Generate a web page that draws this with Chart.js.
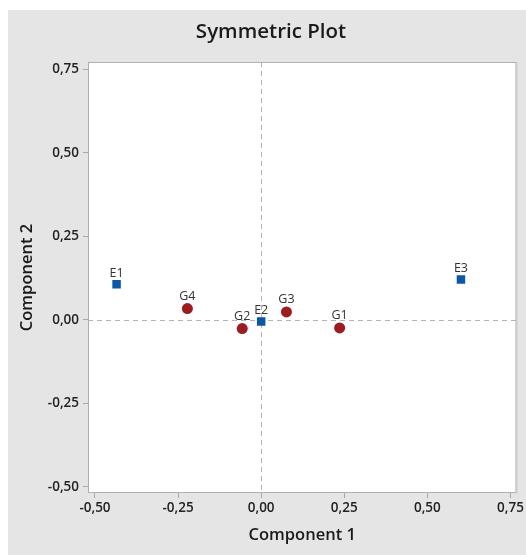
<!DOCTYPE html>
<html>
<head>
<meta charset="utf-8">
<script src="https://cdn.jsdelivr.net/npm/chart.js@4/dist/chart.umd.min.js"></script>
<style>
  html, body { margin: 0; padding: 0; background: #ffffff; }
  #wrap { position: absolute; left: 8px; top: 10px; width: 518px; height: 545px; background: #e5e5e5; }
  canvas { display: block; }
</style>
</head>
<body>
<div id="wrap"><canvas id="c" width="518" height="545"></canvas></div>
<script>
// ---- data ----
const gLabels = ['G1', 'G2', 'G3', 'G4'];
const gX = [0.236, -0.057, 0.076, -0.222];
const gY = [-0.024, -0.026, 0.024, 0.034];

const eLabels = ['E1', 'E2', 'E3'];
const eX = [-0.435, 0.000, 0.601];
const eY = [0.107, -0.005, 0.121];

const xTickValues = [-0.5, -0.25, 0, 0.25, 0.5, 0.75];
const xTickLabels = ['-0,50', '-0,25', '0,00', '0,25', '0,50', '0,75'];
const yTickValues = [-0.5, -0.25, 0, 0.25, 0.5, 0.75];
const yTickLabels = ['-0,50', '-0,25', '0,00', '0,25', '0,50', '0,75'];

const chartTitle = 'Symmetric Plot';
const xTitle = 'Component 1';
const yTitle = 'Component 2';

// ---- chart ----
const FONT = "'Open Sans', 'Noto Sans', sans-serif";
const toPts = (xs, ys) => xs.map((x, i) => ({ x: x, y: ys[i] }));

const decorPlugin = {
  id: 'decor',
  beforeDatasetsDraw(chart) {
    const ctx = chart.ctx, a = chart.chartArea;
    const xs = chart.scales.x, ys = chart.scales.y;
    ctx.save();
    ctx.fillStyle = '#ffffff';
    ctx.fillRect(a.left, a.top, a.right - a.left, a.bottom - a.top);
    // zero reference lines
    ctx.strokeStyle = '#b4b4b4';
    ctx.lineWidth = 1;
    ctx.setLineDash([5, 4]);
    const x0 = Math.round(xs.getPixelForValue(0)) + 0.5;
    const y0 = Math.round(ys.getPixelForValue(0)) + 0.5;
    ctx.beginPath();
    ctx.moveTo(x0, a.top); ctx.lineTo(x0, a.bottom);
    ctx.moveTo(a.left, y0); ctx.lineTo(a.right, y0);
    ctx.stroke();
    ctx.setLineDash([]);
    // frame
    ctx.strokeStyle = '#b0b0b0';
    ctx.strokeRect(a.left + 0.5, a.top + 0.5, a.right - a.left - 1, a.bottom - a.top - 1);
    ctx.strokeStyle = '#c8c8c8';
    ctx.beginPath();
    ctx.moveTo(a.right + 0.5, a.top); ctx.lineTo(a.right + 0.5, a.bottom + 1);
    ctx.stroke();
    ctx.restore();
  },
  afterDatasetsDraw(chart) {
    const ctx = chart.ctx, a = chart.chartArea;
    ctx.save();
    // point labels
    ctx.fillStyle = '#333333';
    ctx.font = "12.5px " + FONT;
    ctx.textAlign = 'center';
    ctx.textBaseline = 'alphabetic';
    chart.data.datasets.forEach((ds, di) => {
      const meta = chart.getDatasetMeta(di);
      meta.data.forEach((el, i) => {
        ctx.fillText(ds.pointLabels[i], el.x, el.y - ds.labelGap);
      });
    });
    // title
    ctx.fillStyle = '#1a1a1a';
    ctx.font = "600 20.5px " + FONT;
    ctx.fillText(chartTitle, 263, 28);
    // axis titles
    ctx.font = "600 16.5px " + FONT;
    ctx.fillText(xTitle, (a.left + a.right) / 2, 530);
    ctx.translate(23.5, (a.top + a.bottom) / 2);
    ctx.rotate(-Math.PI / 2);
    ctx.fillText(yTitle, 0, 0);
    ctx.restore();
  }
};

new Chart(document.getElementById('c'), {
  type: 'scatter',
  data: {
    datasets: [
      {
        label: 'G',
        data: toPts(gX, gY),
        pointLabels: gLabels,
        labelGap: 8.5,
        pointStyle: 'circle',
        pointRadius: 5.5,
        pointHoverRadius: 5.5,
        backgroundColor: '#9e1b20',
        borderColor: '#9e1b20',
        borderWidth: 0
      },
      {
        label: 'E',
        data: toPts(eX, eY),
        pointLabels: eLabels,
        labelGap: 7.5,
        pointStyle: 'rect',
        pointRadius: 6,
        pointHoverRadius: 6,
        backgroundColor: '#0b58a8',
        borderColor: '#0b58a8',
        borderWidth: 0
      }
    ]
  },
  options: {
    responsive: false,
    animation: false,
    events: [],
    layout: { padding: { top: 52, right: 8, left: 0, bottom: 0 } },
    plugins: { legend: { display: false }, title: { display: false }, tooltip: { enabled: false } },
    scales: {
      x: {
        type: 'linear',
        min: -0.521,
        max: 0.768,
        afterBuildTicks: (s) => { s.ticks = xTickValues.map(v => ({ value: v })); },
        afterFit: (s) => { s.height = 62; },
        border: { display: false },
        grid: { drawOnChartArea: false, drawTicks: true, tickLength: 5, tickColor: '#a8a8a8' },
        ticks: {
          color: '#222222',
          font: { family: FONT, size: 13.5, weight: '600' },
          padding: 2,
          maxRotation: 0,
          autoSkip: false,
          callback: (v, i) => xTickLabels[i]
        }
      },
      y: {
        type: 'linear',
        min: -0.518,
        max: 0.772,
        afterBuildTicks: (s) => { s.ticks = yTickValues.map(v => ({ value: v })); },
        afterFit: (s) => { s.width = 80; },
        border: { display: false },
        grid: { drawOnChartArea: false, drawTicks: true, tickLength: 5, tickColor: '#a8a8a8' },
        ticks: {
          color: '#222222',
          font: { family: FONT, size: 13.5, weight: '600' },
          padding: 4,
          autoSkip: false,
          callback: (v, i) => yTickLabels[i]
        }
      }
    }
  },
  plugins: [decorPlugin]
});
</script>
</body>
</html>
